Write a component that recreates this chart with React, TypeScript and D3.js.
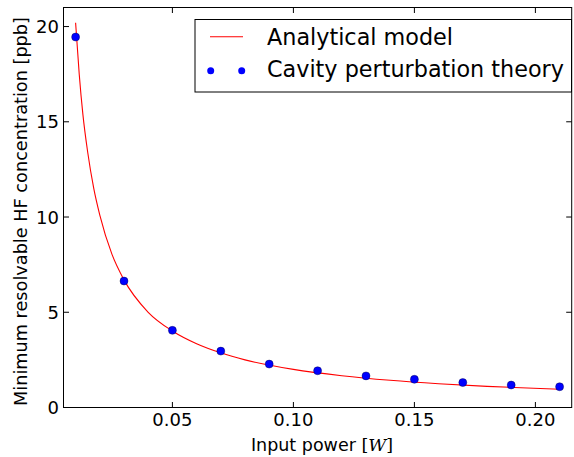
import React from "react";
import * as d3 from "d3";

const curveX = [0.01, 0.0115, 0.013, 0.015, 0.0175, 0.02, 0.025, 0.03, 0.04, 0.05, 0.06, 0.07, 0.08, 0.1, 0.12, 0.14, 0.16, 0.18, 0.21];
const curveY = [20.2, 17.5, 15.4, 13.4, 11.5, 10.1, 8.05, 6.7, 5.0, 4.02, 3.35, 2.87, 2.5, 2.0, 1.67, 1.43, 1.25, 1.11, 0.96];
const pointX = [0.01, 0.03, 0.05, 0.07, 0.09, 0.11, 0.13, 0.15, 0.17, 0.19, 0.21];
const pointY = [19.45, 6.64, 4.05, 2.96, 2.28, 1.93, 1.66, 1.48, 1.31, 1.18, 1.09];
const xTicks = [0.05, 0.1, 0.15, 0.2];
const yTicks = [0, 5, 10, 15, 20];
const legendLabels = ["Analytical model", "Cavity perturbation theory"];

const W = 574, H = 457;
const L = 63.5, R = 571.7, T = 7.5, B = 407.5;
const font = "DejaVu Sans, sans-serif";

export default function App() {
  const x = d3.scaleLinear().domain([0.005, 0.215]).range([L, R]);
  const y = d3.scaleLinear().domain([0, 21]).range([B, T]);
  const line = d3.line<number>().x((_, i) => x(curveX[i])).y((d) => y(d)).curve(d3.curveMonotoneX);
  const tl = 5.5;
  return (
    <svg width={W} height={H} style={{ position: "absolute", left: 0, top: 0, background: "#fff" }}>
      <rect x={0} y={0} width={W} height={H} fill="#fff" />
      <path d={line(curveY) || ""} fill="none" stroke="#ff0000" strokeWidth={1.1} />
      {pointY.map((v, i) => (
        <circle key={i} cx={x(pointX[i])} cy={y(v)} r={4} fill="#0000ff" stroke="#00003a" strokeWidth={0.4} />
      ))}
      <rect x={L} y={T} width={R - L} height={B - T} fill="none" stroke="#000" strokeWidth={1} />
      {xTicks.map((t) => (
        <g key={t}>
          <line x1={x(t)} x2={x(t)} y1={B} y2={B - tl} stroke="#000" />
          <line x1={x(t)} x2={x(t)} y1={T} y2={T + tl} stroke="#000" />
          <text x={x(t)} y={425.5} textAnchor="middle" fontFamily={font} fontSize={18} fill="#000">
            {d3.format(".2f")(t)}
          </text>
        </g>
      ))}
      {yTicks.map((t) => (
        <g key={t}>
          <line x1={L} x2={L + tl} y1={y(t)} y2={y(t)} stroke="#000" />
          <line x1={R} x2={R - tl} y1={y(t)} y2={y(t)} stroke="#000" />
          <text x={59} y={y(t)} dy="0.36em" textAnchor="end" fontFamily={font} fontSize={18} fill="#000">
            {t}
          </text>
        </g>
      ))}
      <text x={322} y={451} textAnchor="middle" fontFamily={font} fontSize={17.5} fill="#000">
        Input power{" "}
        <tspan fontFamily="DejaVu Serif, serif">[</tspan>
        <tspan fontFamily="DejaVu Serif, serif" fontStyle="italic">W</tspan>
        <tspan fontFamily="DejaVu Serif, serif">]</tspan>
      </text>
      <text
        transform={`translate(27, ${211.5}) rotate(-90)`}
        textAnchor="middle"
        fontFamily={font}
        fontSize={17.7}
        fill="#000"
      >
        Minimum resolvable HF concentration [ppb]
      </text>
      <g>
        <rect x={195} y={19.5} width={376.5} height={72.5} fill="#fff" stroke="#000" strokeWidth={1} />
        <line x1={210} x2={243} y1={36.7} y2={36.7} stroke="#ff0000" strokeWidth={1.1} />
        <circle cx={210.7} cy={70.7} r={3.5} fill="#0000ff" />
        <circle cx={241.7} cy={70.7} r={3.5} fill="#0000ff" />
        <text x={267} y={45} fontFamily={font} fontSize={22.3} fill="#000">{legendLabels[0]}</text>
        <text x={267} y={77} fontFamily={font} fontSize={22.3} fill="#000">{legendLabels[1]}</text>
      </g>
    </svg>
  );
}
